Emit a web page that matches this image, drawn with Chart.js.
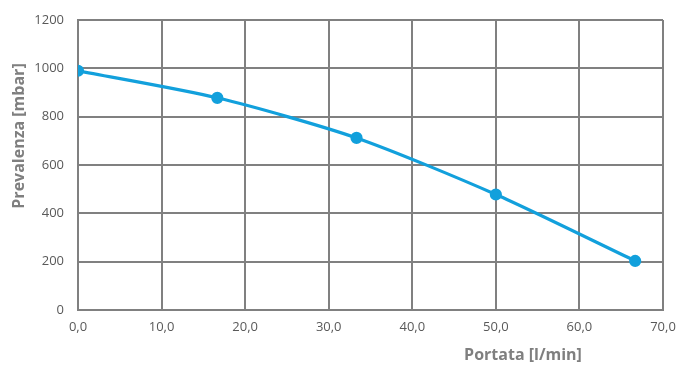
<!DOCTYPE html>
<html>
<head>
<meta charset="utf-8">
<script src="https://cdn.jsdelivr.net/npm/chart.js@4.4.1/dist/chart.umd.min.js"></script>
<style>
  html, body { margin: 0; padding: 0; background: #fff; }
  #wrap { width: 678px; height: 365px; }
</style>
</head>
<body>
<div id="wrap"><canvas id="chart"></canvas></div>
<script>
// --- data ---
const portata = [0, 16.67, 33.33, 50, 66.67];        // l/min
const prevalenza = [990, 878, 712, 478, 203];         // mbar
const xTitle = "Portata [l/min]";
const yTitle = "Prevalenza [mbar]";

const GRID = "#808080";
const TICK = "#595959";
const BLUE = "#12a0dc";

// axis titles drawn by hand, Excel puts them off-centre
const axisTitles = {
  id: "axisTitles",
  afterDraw(chart) {
    const ctx = chart.ctx;
    const a = chart.chartArea;
    ctx.save();
    ctx.fillStyle = "#7f7f7f";
    ctx.font = "bold 16px 'Open Sans'";
    ctx.textAlign = "center";
    ctx.textBaseline = "middle";
    ctx.fillText(xTitle, a.left + 445, a.bottom + 45);
    ctx.translate(19, a.top + 116);
    ctx.rotate(-Math.PI / 2);
    ctx.fillText(yTitle, 0, 0);
    ctx.restore();
  },
};

new Chart(document.getElementById("chart"), {
  type: "scatter",
  data: {
    datasets: [
      {
        data: portata.map((x, i) => ({ x: x, y: prevalenza[i] })),
        showLine: true,
        borderColor: BLUE,
        backgroundColor: BLUE,
        borderWidth: 3.2,
        pointRadius: 4.5,
        pointHoverRadius: 4.5,
        tension: 0.25,
      },
    ],
  },
  options: {
    responsive: true,
    maintainAspectRatio: false,
    animation: false,
    layout: { padding: { top: 20, right: 15, left: 0, bottom: 0 } },
    plugins: { legend: { display: false }, tooltip: { enabled: false } },
    scales: {
      x: {
        type: "linear",
        min: 0,
        max: 70,
        afterFit: (s) => { s.height = 55; s.paddingRight = 0; s.paddingLeft = 0; },
        grid: { color: GRID, lineWidth: 2, drawTicks: false },
        border: { color: GRID, width: 2 },
        ticks: {
          stepSize: 10,
          color: TICK,
          padding: 9,
          font: { family: "'Open Sans'", size: 13 },
          callback: (v) => v.toFixed(1).replace(".", ","),
        },
      },
      y: {
        min: 0,
        max: 1200,
        afterFit: (s) => { s.width = 78; s.paddingTop = 0; s.paddingBottom = 0; },
        grid: { color: GRID, lineWidth: 2, drawTicks: false },
        border: { color: GRID, width: 2 },
        ticks: {
          stepSize: 200,
          color: TICK,
          padding: 14,
          font: { family: "'Open Sans'", size: 13 },
          callback: (v) => String(v),
        },
      },
    },
  },
  plugins: [axisTitles],
});
</script>
</body>
</html>
